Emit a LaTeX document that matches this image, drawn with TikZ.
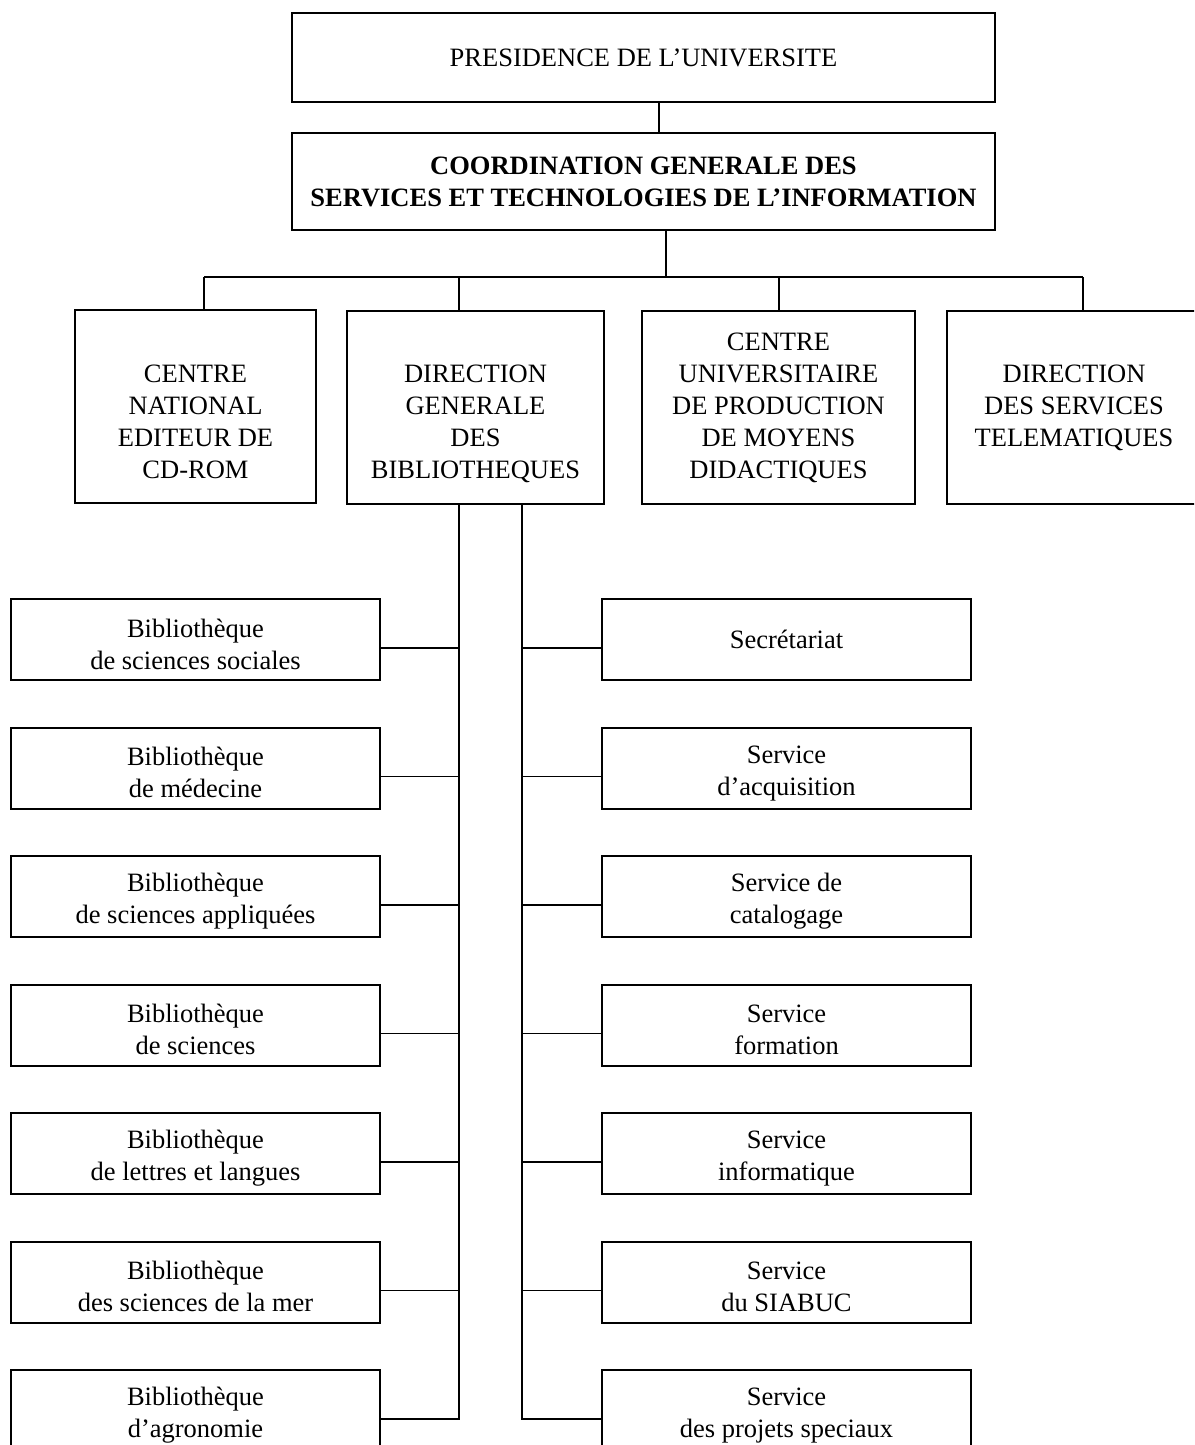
\documentclass[tikz,border=0pt]{standalone}
\usepackage{fontspec}
\setmainfont{Liberation Serif}
\newcommand\orgfont{\fontsize{13.25}{16}\selectfont}
\newcommand\firstline{\rule{0pt}{14pt}}
\begin{document}
\begin{tikzpicture}[x=0.5pt, y=-0.5pt]
      \tikzset{
  every node/.style={font=\orgfont},
  topbox/.style={
    rectangle,
    draw,
    line width=1pt,
    minimum width=351.5pt,
    inner sep=0pt,
    align=center
  },
  unitbox/.style={
    rectangle,
    draw,
    line width=1pt,
    minimum height=96.5pt,
    inner sep=0pt,
    align=center
  },
  subbox/.style={
    rectangle,
    draw,
    line width=1pt,
    minimum width=184.5pt,
    minimum height=40.5pt,
    inner sep=0pt,
    align=center
  },
  link/.style={line width=0.7pt}
}
\useasboundingbox (0,0) rectangle (1194,1445);
\clip (0,0) rectangle (1194,1445);

\node [topbox, minimum height=44.5pt] (presidence) at (643.5,57.5) {PRESIDENCE DE L’UNIVERSITE};
\node [topbox, minimum height=48.5pt, font=\orgfont\bfseries] (coordination) at (643.5,181.5)
  {COORDINATION GENERALE DES\\SERVICES ET TECHNOLOGIES DE L’INFORMATION};

\node [unitbox, minimum width=120.5pt] (cne) at (195.5,406)
  {\vphantom{C}\\CENTRE\\NATIONAL\\EDITEUR DE\\CD-ROM};
\node [unitbox, minimum width=128.5pt] (dgb) at (475.5,407.5)
  {\vphantom{C}\\DIRECTION\\GENERALE\\DES\\BIBLIOTHEQUES};
\node [unitbox, minimum width=136.5pt] (cup) at (778.5,407.5)
  {CENTRE\\UNIVERSITAIRE\\DE PRODUCTION\\DE MOYENS\\DIDACTIQUES};
\node [unitbox, minimum width=127pt] (dst) at (1074,407.5)
  {\vphantom{C}\\DIRECTION\\DES SERVICES\\TELEMATIQUES\\\vphantom{Q}};

\foreach \t [count=\i] in {{Bibliothèque\\de sciences sociales}, {Bibliothèque\\de médecine},
    {Bibliothèque\\de sciences appliquées}, {Bibliothèque\\de sciences},
    {Bibliothèque\\de lettres et langues}, {Bibliothèque\\des sciences de la mer},
    {Bibliothèque\\d’agronomie}}
  \node [subbox] (bibl\i) at (195.5,{639.5+128.5*(\i-1)}) {\firstline\t};

\foreach \t [count=\i] in {Secrétariat, {Service\\d’acquisition}, {Service de\\catalogage},
    {Service\\formation}, {Service\\informatique}, {Service\\du SIABUC},
    {Service\\des projets speciaux}}
  \node [subbox] (serv\i) at (786.5,{639.5+128.5*(\i-1)}) {\ifnum\i>1 \firstline\fi\t};

% top of the chart
\coordinate (toplink) at (659,0);
\draw [link] (presidence.south -| toplink) -- (coordination.north -| toplink);

\coordinate (bus) at (666,277);
\foreach \x [count=\i] in {204,459,779,1083}
  \coordinate (drop\i) at (\x,277);
\draw [link] (coordination.south -| bus) -- (bus);
\draw [link] (drop1) -- (drop4);
\foreach \n [count=\i] in {cne,dgb,cup,dst}
  \draw [link] (drop\i) -- (drop\i |- \n.north);

% the two rails under the libraries direction
\coordinate (leftrail) at (459,0);
\coordinate (rightrail) at (522,0);
\foreach \i in {1,...,7} {
  \path ([yshift=-4.25pt]bibl\i.east) coordinate (bl\i);
  \path ([yshift=-4.25pt]serv\i.west) coordinate (sv\i);
}
\draw [link] (dgb.south -| leftrail) |- (bl7);
\draw [link] (dgb.south -| rightrail) |- (sv7);
\foreach \i in {1,...,6} {
  \draw [link] (bl\i) -- (bl\i -| leftrail);
  \draw [link] (sv\i) -- (sv\i -| rightrail);
}
    \end{tikzpicture}
\end{document}
